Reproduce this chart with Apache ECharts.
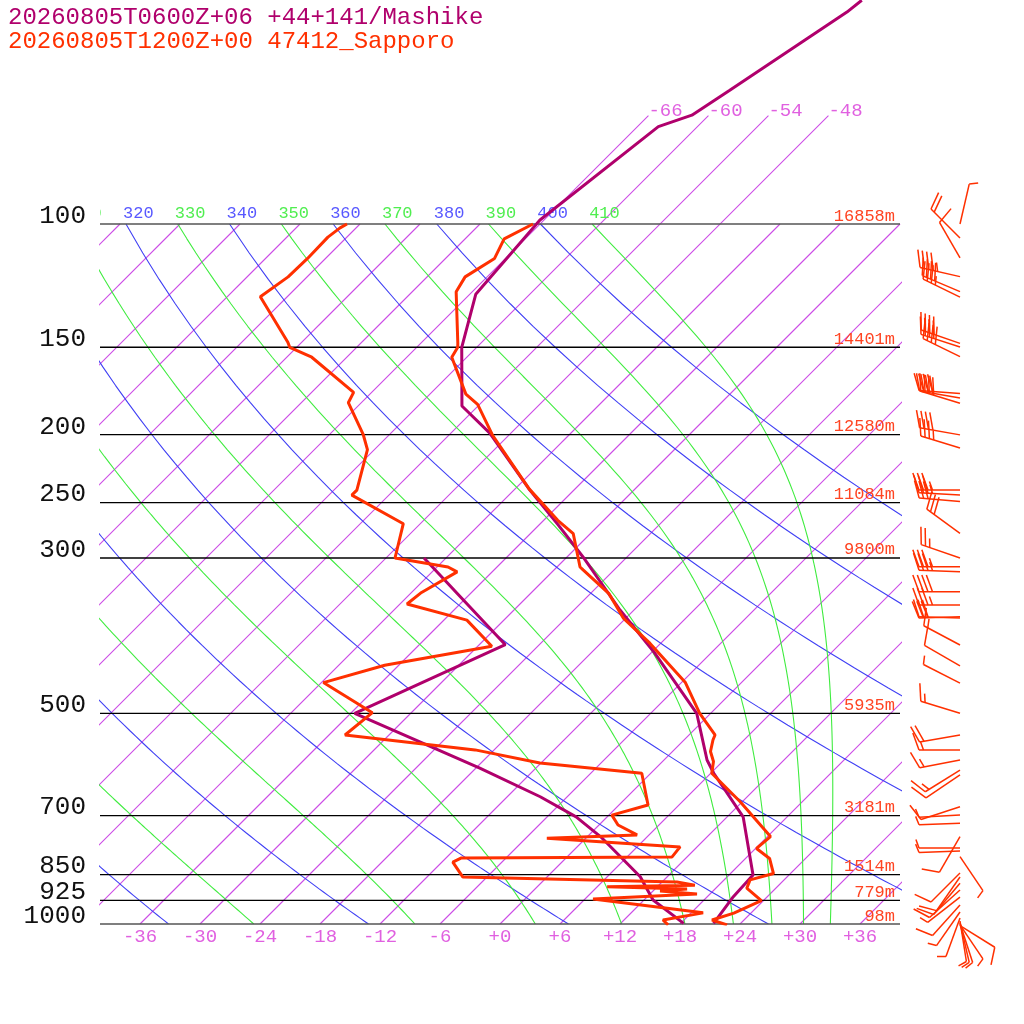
<!DOCTYPE html>
<html>
<head>
<meta charset="utf-8">
<script src="https://cdn.jsdelivr.net/npm/echarts@6/dist/echarts.min.js"></script>
<style>
  html, body { margin: 0; padding: 0; background: #fff; }
  #skewt { width: 1024px; height: 1024px; }
</style>
</head>
<body>
<div id="skewt"></div>
<script>
// isobars and the heights written at their right end
var isobarP = [100, 150, 200, 250, 300, 500, 700, 850, 925, 1000];
var isobarH = ['16858m', '14401m', '12580m', '11084m', '9800m', '5935m', '3181m', '1514m', '779m', '98m'];

// temperature labels along the bottom, isotherms that go on above 100 hPa
var tempTicks = [-36, -30, -24, -18, -12, -6, 0, 6, 12, 18, 24, 30, 36];
var isoTops = [-66, -60, -54, -48];

// dry adiabats (blue) and saturated adiabats (green), K
var dryTheta = [240, 260, 280, 300, 320, 340, 360, 380, 400];
var moistTheta = [250, 270, 290, 310, 330, 350, 370, 390, 410];

// +44+141/Mashike model profile
var mskTempP = [998, 914, 851, 703, 609, 583, 500, 408, 356, 299, 269, 240, 199, 182, 150, 126, 98.7, 72.6, 69.9, 64.4, 49.8, 47.9];
var mskTempT = [21.3, 20.6, 20.4, 13.6, 6.3, 4.3, -1.4, -11.9, -19.4, -28.4, -34.1, -40.4, -50.1, -55.6, -61.5, -65.4, -66.4, -63.9, -61.7, -60.4, -56.5, -56.2];
var mskDewP = [998, 924, 856, 750, 703, 658, 599, 561, 500, 399, 300];
var mskDewT = [18.3, 12.9, 9.3, 1.3, -3.1, -8.7, -17.6, -24.1, -35.6, -27.4, -44.2];

// 47412_Sapporo sounding
var sapTempP = [1003, 987, 965, 926, 889, 865, 847, 806, 780, 750, 669, 609, 586, 567, 546, 537, 500, 452, 397, 366, 337, 312, 309, 277, 265, 239, 200, 181, 175, 155, 150, 148, 125, 119, 112, 105, 100];
var sapTempT = [22.8, 20.8, 22.3, 23.8, 21.1, 20.6, 22.3, 20.4, 18.1, 18.3, 11.8, 6.1, 5.1, 3.8, 2.9, 2.6, -1.1, -5.6, -13.1, -18.2, -22.2, -27.1, -27.7, -31.7, -34.6, -40.6, -49.7, -54.2, -56.4, -61.5, -61.9, -62.3, -67.6, -68.2, -67.1, -68.1, -66.7];
var sapDewP = [1003, 987, 964, 921, 906, 897, 891, 885, 880, 871, 857, 816, 805, 802, 776, 754, 746, 722, 699, 676, 609, 589, 564, 537, 499, 452, 427, 401, 368, 349, 336, 314, 309, 300, 268, 244, 240, 210, 200, 180, 174, 155, 150, 147.5, 127, 119, 112, 104.4, 101.3, 100];
var sapDewT = [16.9, 15.9, 19.2, 6.8, 16.7, 12.7, 15.2, 7.0, 15.6, 13.5, -8.4, -10.9, -10.5, 10.5, 10.3, -3.9, 4.8, 1.9, 0.3, 2.9, -0.9, -12.1, -19.9, -34.4, -33.9, -41.8, -37.4, -28.6, -33.7, -41.3, -41.0, -39.5, -40.9, -47.1, -49.7, -57.7, -57.7, -60.7, -62.6, -67.3, -67.8, -75.5, -78.7, -79.4, -86.7, -85.9, -85.8, -85.9, -85.6, -85.3];

// Sapporo winds: pressure, direction (deg), speed (kt)
var windP = [100, 104.7, 111.8, 118.9, 124.9, 127.2, 148.1, 149.9, 154.7, 174.6, 177.3, 180.3, 200.1, 208.9, 239.9, 243.8, 249.2, 276.6, 300, 308.7, 313.8, 335.3, 350.1, 363.9, 365.6, 399.4, 427.9, 452.8, 500, 537, 564.1, 583, 602.6, 612.3, 680, 698.9, 718, 750.3, 778.8, 786.6, 801.3, 845.7, 856.8, 874.3, 894.3, 915.3, 939.4, 961.3, 980.4, 990.2, 995, 998.4, 1003, 1005];
var windDir = [13, 315, 330, 283, 293, 296, 289, 288, 296, 274, 280, 287, 280, 287, 270, 273, 275, 306, 289, 270, 272, 270, 270, 268, 272, 298, 300, 297, 287, 260, 270, 259, 238, 236, 252, 267, 268, 210, 270, 268, 146, 225, 215, 220, 228, 232, 222, 215, 200, 171, 167, 162, 146, 122];
var windSpd = [5, 20, 10, 45, 40, 35, 40, 40, 40, 40, 40, 40, 40, 35, 35, 35, 30, 30, 25, 35, 35, 40, 35, 30, 30, 15, 10, 5, 15, 20, 15, 15, 15, 10, 10, 5, 5, 10, 5, 5, 5, 10, 10, 10, 10, 5, 10, 5, 5, 5, 5, 5, 5, 10];

var MAGENTA = '#b0006c';
var ORANGE = '#ff3000';
var PINK = '#e060e0';
var KAPPA = 0.2857;
var MONO = 'Liberation Mono';
var LOG_TOP = 3 - 924 / 700;   // log10 of the pressure at the top of the picture

// skewed x: temperature shifted 70 degrees per decade of pressure
function skew(T, p) { return T + 70 * Math.log10(1000 / p); }
function lp(p) { return Math.log10(p); }

function profile(P, T) {
  return P.map(function (p, i) { return [skew(T[i], p), lp(p)]; });
}

function dryCurve(theta) {
  var pts = [];
  for (var p = 100; p <= 1000; p += 10) {
    pts.push([skew(theta * Math.pow(p / 1000, KAPPA) - 273.15, p), lp(p)]);
  }
  return pts;
}

// saturated pseudo-adiabatic lapse dT/dp
function lapse(T, p) {
  var Tc = T - 273.15;
  var es = 6.112 * Math.exp(17.67 * Tc / (Tc + 243.5));
  var rs = 0.622 * es / (p - es);
  return (287.04 * T + 2.501e6 * rs) /
    (p * (1005.7 + 2.501e6 * 2.501e6 * rs * 0.622 / (287.04 * T * T)));
}

function moistCurve(theta) {
  var T = theta * Math.pow(0.1, KAPPA);
  var p = 100, dp = 5;
  var pts = [[skew(T - 273.15, p), lp(p)]];
  while (p < 1000) {
    var k1 = lapse(T, p);
    var k2 = lapse(T + dp * k1 / 2, p + dp / 2);
    var k3 = lapse(T + dp * k2 / 2, p + dp / 2);
    var k4 = lapse(T + dp * k3, p + dp);
    T += dp * (k1 + 2 * k2 + 2 * k3 + k4) / 6;
    p += dp;
    pts.push([skew(T - 273.15, p), lp(p)]);
  }
  return pts;
}

function bgLine(data, color) {
  return {
    type: 'line', data: data, showSymbol: false, silent: true, z: 1,
    lineStyle: { color: color, width: 1.1 }
  };
}

function textEl(x, y, str, color, size, align) {
  return {
    type: 'text', x: x, y: y,
    style: { text: str, fill: color, fontFamily: MONO, fontSize: size,
             align: align, verticalAlign: 'middle' }
  };
}

var series = [];

// isotherms every 6 degrees
for (var iso = -108; iso <= 36; iso += 6) {
  var pEnd = isoTops.indexOf(iso) >= 0 ? 70 : 100;
  series.push(bgLine([[skew(iso, 1000), lp(1000)], [skew(iso, pEnd), lp(pEnd)]], '#cc4ce6'));
}

dryTheta.forEach(function (th) { series.push(bgLine(dryCurve(th), '#4040f4')); });
moistTheta.forEach(function (th) { series.push(bgLine(moistCurve(th), '#40ec40')); });

// isotherm labels: bottom row and the tops above 100 hPa
series.push({
  type: 'custom', clip: false, silent: true, z: 3,
  data: tempTicks.map(function (v) { return [v, 0]; })
    .concat(isoTops.map(function (v) { return [v, 1]; })),
  renderItem: function (params, api) {
    var v = api.value(0);
    if (api.value(1)) {
      var e = api.coord([skew(v, 70), lp(70)]);
      return textEl(e[0], e[1] - 5, String(v), PINK, 19, 'left');
    }
    var b = api.coord([v, lp(1000)]);
    return textEl(b[0], b[1] + 13, v >= 0 ? '+' + v : String(v), PINK, 19, 'center');
  }
});

// adiabat labels above the 100 hPa line, clipped to the frame
series.push({
  type: 'custom', clip: true, silent: true, z: 3,
  data: dryTheta.map(function (th) { return [th, 0]; })
    .concat(moistTheta.map(function (th) { return [th, 1]; })),
  renderItem: function (params, api) {
    var th = api.value(0);
    var pt = api.coord([skew(th * Math.pow(0.1, KAPPA) - 273.15, 100), lp(100)]);
    return textEl(pt[0] - 3, pt[1] - 11, String(th), api.value(1) ? '#50ee50' : '#5858ff', 17, 'left');
  }
});

// isobars with pressure and height labels
series.push({
  type: 'custom', clip: false, silent: true, z: 4,
  data: isobarP.map(function (p, i) { return [p, i]; }),
  renderItem: function (params, api) {
    var p = api.value(0), i = api.value(1);
    var a = api.coord([-40, lp(p)]), b = api.coord([40, lp(p)]);
    var edge = (p === 100 || p === 1000);
    return {
      type: 'group',
      children: [
        { type: 'line', shape: { x1: a[0], y1: a[1], x2: b[0], y2: b[1] },
          style: { stroke: edge ? '#555' : '#000', lineWidth: edge ? 1.6 : 1.3 } },
        textEl(a[0] - 14, a[1] - 8, String(p), '#111', 26, 'right'),
        textEl(b[0] - 5, b[1] - 8, isobarH[i], '#ff4422', 17, 'right')
      ]
    };
  }
});

// the two profiles
function profLine(data, color) {
  return {
    type: 'line', data: data, showSymbol: false, silent: true, z: 6,
    lineStyle: { color: color, width: 3 }
  };
}
series.push(profLine(profile(mskDewP, mskDewT), MAGENTA));
series.push(profLine(profile(mskTempP, mskTempT), MAGENTA));
series.push(profLine(profile(sapDewP, sapDewT), ORANGE));
series.push(profLine(profile(sapTempP, sapTempT), ORANGE));

// wind barbs right of the frame
series.push({
  type: 'custom', clip: false, silent: true, z: 7,
  data: windP.map(function (p, i) { return [lp(p), windDir[i], windSpd[i]]; }),
  renderItem: function (params, api) {
    var base = api.coord([46, api.value(0)]);
    var rad = api.value(1) * Math.PI / 180;
    var ux = Math.sin(rad), uy = -Math.cos(rad);
    var len = 41;
    var tip = [base[0] + ux * len, base[1] + uy * len];
    var ang = 70 * Math.PI / 180;
    var fx = ux * Math.cos(ang) - uy * Math.sin(ang);
    var fy = ux * Math.sin(ang) + uy * Math.cos(ang);
    var st = { stroke: ORANGE, lineWidth: 1.5 };
    var kids = [{ type: 'line', shape: { x1: base[0], y1: base[1], x2: tip[0], y2: tip[1] }, style: st }];
    var spd = Math.round(api.value(2) / 5) * 5;
    var d = 0;
    while (spd >= 5) {
      var l = spd >= 10 ? 18 : 9;
      var x0 = tip[0] - ux * d, y0 = tip[1] - uy * d;
      kids.push({ type: 'line', shape: { x1: x0, y1: y0, x2: x0 + fx * l, y2: y0 + fy * l }, style: st });
      d += 4.5;
      spd -= spd >= 10 ? 10 : 5;
    }
    return { type: 'group', children: kids };
  }
});

var chart = echarts.init(document.getElementById('skewt'));
chart.setOption({
  animation: false,
  backgroundColor: '#fff',
  title: [
    { text: '20260805T0600Z+06 +44+141/Mashike', left: 8, top: 6, padding: 0,
      textStyle: { fontFamily: MONO, fontSize: 24, fontWeight: 'normal', color: MAGENTA } },
    { text: '20260805T1200Z+00 47412_Sapporo', left: 8, top: 30, padding: 0,
      textStyle: { fontFamily: MONO, fontSize: 24, fontWeight: 'normal', color: ORANGE } }
  ],
  grid: { left: 100, right: 124, top: 0, bottom: 100, containLabel: false },
  xAxis: {
    type: 'value', min: -40, max: 40,
    axisLine: { show: false }, axisTick: { show: false }, splitLine: { show: false },
    axisLabel: { show: false }
  },
  yAxis: {
    type: 'value', min: LOG_TOP, max: 3, inverse: true,
    axisLine: { show: false }, axisTick: { show: false }, splitLine: { show: false },
    axisLabel: { show: false }
  },
  series: series
});
</script>
</body>
</html>
